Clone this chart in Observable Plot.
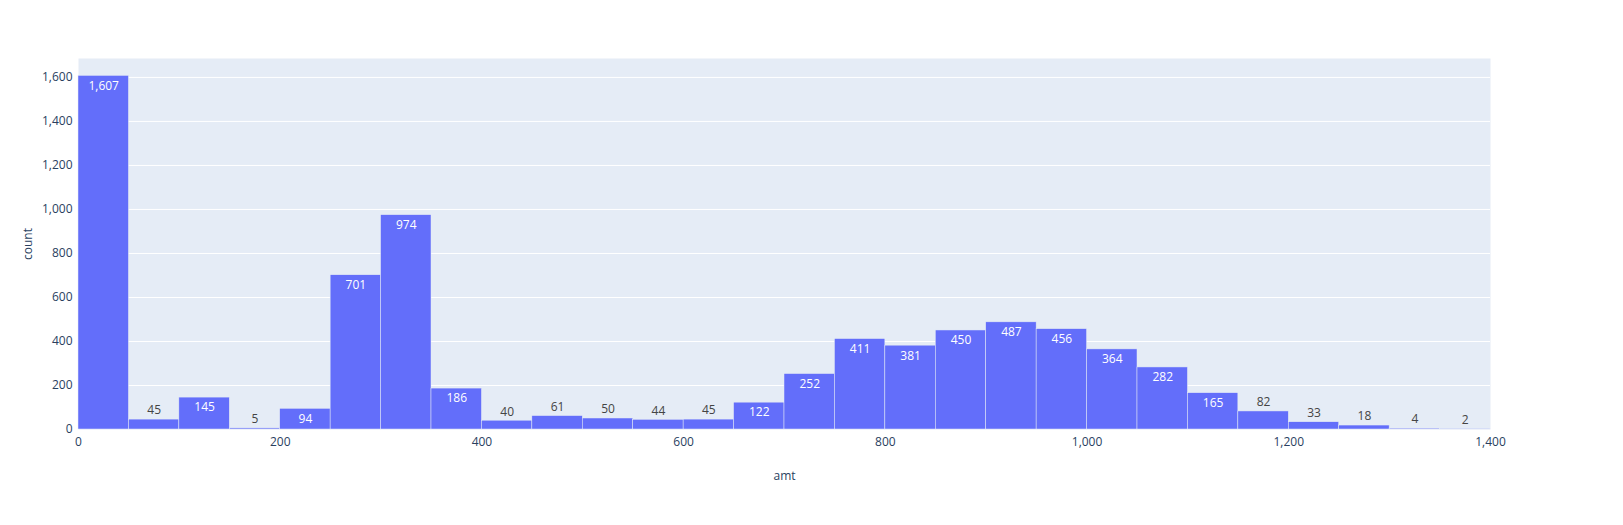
<!DOCTYPE html>
<html>
<head>
<script src="https://cdn.jsdelivr.net/npm/d3@7"></script>
<script src="https://cdn.jsdelivr.net/npm/@observablehq/plot@0.6"></script>
<style>
  body { margin: 0; background: #fff; font-family: "Open Sans", sans-serif; }
</style>
</head>
<body>
<div id="chart"></div>
<script>
const binStarts = [0,50,100,150,200,250,300,350,400,450,500,550,600,650,700,750,800,850,900,950,1000,1050,1100,1150,1200,1250,1300,1350]
const counts = [1607,45,145,5,94,701,974,186,40,61,50,44,45,122,252,411,381,450,487,456,364,282,165,82,33,18,4,2]
const binWidth = 50

const data = binStarts.map((s, i) => ({x1: s, x2: s + binWidth, count: counts[i]}))
const inside = data.filter(d => d.count >= 90)
const outside = data.filter(d => d.count < 90)

let chart = Plot.plot({
  width: 1623,
  height: 525,
  marginLeft: 78,
  marginRight: 133,
  marginTop: 58,
  marginBottom: 96,
  style: {fontFamily: "'Open Sans', sans-serif", fontSize: "12px", color: "#2a3f5f"},
  x: {domain: [0, 1400], ticks: [0,200,400,600,800,1000,1200,1400], tickSize: 0, tickPadding: 8, label: "amt", labelAnchor: "center", labelOffset: 50, labelArrow: "none"},
  y: {domain: [0, 1686], ticks: [0,200,400,600,800,1000,1200,1400,1600], tickSize: 0, tickPadding: 6, label: "count", labelAnchor: "center", labelOffset: 55, labelArrow: "none"},
  marks: [
    Plot.frame({fill: "#E5ECF6", stroke: null}),
    Plot.gridY([200,400,600,800,1000,1200,1400,1600], {stroke: "#fff", strokeOpacity: 1, strokeWidth: 1}),
    Plot.rectY(data, {x1: "x1", x2: "x2", y: "count", fill: "#636efa", stroke: "#E5ECF6", strokeWidth: 0.5}),
    Plot.text(inside, {x: d => (d.x1 + d.x2) / 2, y: "count", text: "count", dy: 10, fill: "#fff", fontSize: 12}),
    Plot.text(outside, {x: d => (d.x1 + d.x2) / 2, y: "count", text: "count", dy: -9, fill: "#444", fontSize: 12})
  ]
})
d3.select('#chart').append(() => chart)
</script>
</body>
</html>
